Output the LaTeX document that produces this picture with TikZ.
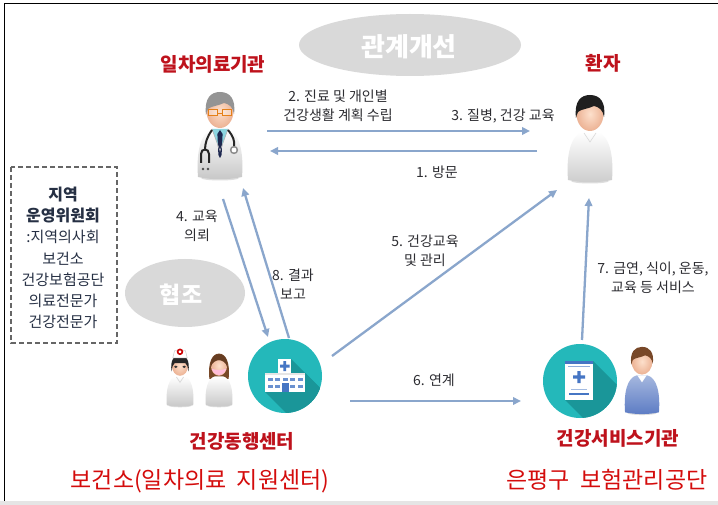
\documentclass[tikz,border=0pt]{standalone}
\usepackage{fontspec}
\setmainfont{Noto Sans CJK KR}
\usetikzlibrary{arrows.meta,shapes.geometric}

\definecolor{flowc}{RGB}{138,166,204}
\definecolor{labelc}{RGB}{45,45,50}
\definecolor{titlered}{RGB}{190,18,28}
\definecolor{brightred}{RGB}{212,12,12}
\definecolor{bubble}{RGB}{217,217,217}
\definecolor{tealc}{RGB}{36,184,186}
\definecolor{tealdark}{RGB}{26,150,153}
\definecolor{boxtext}{RGB}{38,48,68}
\definecolor{skinlight}{RGB}{253,224,204}
\definecolor{skindark}{RGB}{236,178,148}
\definecolor{winblue}{RGB}{70,118,196}
\definecolor{navytie}{RGB}{30,40,80}
\definecolor{shirtteal}{RGB}{140,214,224}
\definecolor{staffblue}{RGB}{92,124,196}
\definecolor{hairbrown}{RGB}{120,72,40}

\tikzset{
  every pic/.style={transform shape},
  % generic figure: body with soft shadow
  pics/figbase/.style 2 args={code={
    \fill[black!25, opacity=0.5] (0,43) ellipse (19 and 2.5);
    \shade[top color=#1, bottom color=#2]
      (-22,42) .. controls (-24,16) and (-19,-3) .. (-7,-6) -- (7,-6)
      .. controls (19,-3) and (24,16) .. (22,42)
      .. controls (8,45) and (-8,45) .. cycle;
  }},
  pics/face/.style={code={
    \shade[inner color=skinlight, outer color=skindark] (0,-24) ellipse (13.5 and 17);
  }},
  pics/shorthair/.style={code={
    \fill[#1] (-14,-20) .. controls (-16,-37) and (-9,-43) .. (0,-43)
      .. controls (10,-43) and (16,-36) .. (14,-21)
      .. controls (13,-28) and (9,-31) .. (4,-32)
      .. controls (-2,-29) and (-9,-29) .. (-12,-26)
      .. controls (-13,-24) and (-13.5,-22) .. cycle;
  }},
  pics/doctor/.style={code={
    \pic {figbase={white}{black!22}};
    \fill[shirtteal] (-8,-6) -- (8,-6) -- (0,16) -- cycle;
    \fill[navytie] (0,-5) -- (-2.6,-1) -- (-1.6,20) -- (0,23) -- (1.6,20) -- (2.6,-1) -- cycle;
    \draw[black!30, line width=0.6pt] (-8,-6) -- (0,16) -- (8,-6);
    \draw[black!85, line width=2pt] (-8,-5) .. controls (-13,2) and (-15,8) .. (-15,15);
    \draw[black!85, line width=2pt] (-19,28) -- (-19,19) .. controls (-19,13) and (-11,13) .. (-11,19) -- (-11,28);
    \draw[black!85, line width=2pt] (8,-5) .. controls (13,1) and (15,6) .. (14,11);
    \fill[black!45] (14,15) circle (4.2);
    \fill[white] (14,15) circle (2.4);
    \fill[black!70] (-17,34) circle (1.3) (-12,34) circle (1.3);
    \pic {face};
    \pic {shorthair={black!42}};
    \draw[orange!60!brown, line width=1pt, fill=white, fill opacity=0.35]
      (-11.5,-25) rectangle (-2.5,-19) (2.5,-25) rectangle (11.5,-19);
    \draw[orange!60!brown, line width=0.9pt] (-2.5,-22) -- (2.5,-22);
  }},
  pics/patient/.style={code={
    \pic {figbase={white}{black!20}};
    \draw[black!15, line width=0.6pt] (-6,-5) -- (0,4) -- (6,-5);
    \pic {face};
    \pic {shorthair={black!88}};
  }},
  pics/nurse/.style={code={
    \pic {figbase={white}{black!22}};
    \draw[black!15, line width=0.8pt] (-6,-5) -- (0,4) -- (6,-5);
    \pic {face};
    \fill[black!85] (-14,-14) .. controls (-17,-34) and (-9,-42) .. (0,-42)
      .. controls (9,-42) and (17,-34) .. (14,-14)
      .. controls (13,-22) and (12,-26) .. (9,-28)
      -- (-9,-28) .. controls (-12,-26) and (-13,-22) .. cycle;
    \fill[black!80] (-7,-22) ellipse (3 and 2) (7,-22) ellipse (3 and 2);
    \fill[white, draw=black!20, line width=0.5pt] (-12,-37) -- (12,-37) -- (9,-49) -- (-9,-49) -- cycle;
    \draw[red!80!black, line width=1.6pt] (0,-47) circle (4);
  }},
  pics/femaledoc/.style={code={
    \fill[hairbrown] (-16,-2) .. controls (-19,-30) and (-11,-44) .. (0,-44)
      .. controls (11,-44) and (19,-30) .. (16,-2) -- cycle;
    \pic {figbase={white}{black!22}};
    \pic {face};
    \fill[hairbrown!85!black] (-14,-20) .. controls (-15,-36) and (-8,-43) .. (0,-43)
      .. controls (8,-43) and (15,-36) .. (14,-20)
      .. controls (12,-30) and (5,-33) .. (0,-33)
      .. controls (-5,-33) and (-12,-30) .. cycle;
    \fill[pink!85!magenta!70] (-12,-19) .. controls (-9,-5) and (9,-5) .. (12,-19)
      .. controls (6,-16) and (-6,-16) .. cycle;
  }},
  pics/staff/.style={code={
    \pic {figbase={staffblue!55!white}{staffblue}};
    \fill[white] (-6,-6) -- (6,-6) -- (0,3) -- cycle;
    \pic {face};
    \pic {shorthair={hairbrown}};
  }},
  flow/.style={draw=flowc, line width=2.3pt, -{Triangle[length=8pt,width=7.5pt]}},
  lbl/.style={text=labelc, font=\fontsize{14}{19}\selectfont, align=center, inner sep=0pt},
  redtitle/.style={text=titlered, font=\fontsize{19}{22}\selectfont\bfseries, inner sep=0pt},
  bigred/.style={text=brightred, font=\fontsize{23}{26}\selectfont, inner sep=0pt},
  bubbletext/.style={text=white, font=\fontsize{#1}{30}\selectfont\bfseries, inner sep=0pt},
}

\begin{document}
\begin{tikzpicture}[x=1pt,y=-1pt]
\useasboundingbox (0,0) rectangle (718,505);
\fill[white] (0,0) rectangle (718,505);
\fill[black!10] (0,500.5) rectangle (718,505);
\draw[black, line width=1.3pt] (4.5,500.5) -- (4.5,3.5) -- (718,3.5);

% grey bubbles
\fill[bubble] (410,45) ellipse (111 and 31);
\node[bubbletext=26] (relation) at (409,47) {관계개선};
\fill[bubble] (185,293) ellipse (60 and 34);
\node[bubbletext=23] (coop) at (181,295) {협조};

% titles
\node[redtitle] (tclinic) at (213,64) {일차의료기관};
\node[redtitle] (tpatient) at (603,63) {환자};
\node[redtitle] (tcenter) at (242,441) {건강동행센터};
\node[redtitle] (tservice) at (618,438) {건강서비스기관};
\node[bigred] (bhealth) at (200,481) {보건소(일차의료\ \ 지원센터)};
\node[bigred] (binsur) at (607,480) {은평구\ \ 보험관리공단};

% figures
\pic at (220,135) {doctor};
\pic at (590,138) {patient};
\pic[scale=0.6] at (180,380) {nurse};
\pic[scale=0.6] at (219,380) {femaledoc};
\pic[scale=0.77] at (642,380) {staff};

% health center emblem
\begin{scope}[shift={(285,376)}]
  \fill[tealc] (0,0) circle (37);
  \begin{scope}
    \clip (0,0) circle (37);
    \fill[tealdark] (-20,-3) -- (20,-3) -- (80,57) -- (80,76) -- (40,76) -- (-20,16) -- cycle;
    \fill[tealdark] (-7,-17) -- (6,-17) -- (66,43) -- (66,57) -- (53,57) -- (-7,-3) -- cycle;
  \end{scope}
  \fill[white] (-7,-17) rectangle (6,-3);
  \fill[white] (-20,-3) rectangle (20,16);
  \fill[black!10] (-20,-3) rectangle (20,-1);
  \fill[winblue] (-1.7,-15) rectangle (1.2,-5) (-5,-11.5) rectangle (4.5,-8.5);
  \foreach \wx in {-15,-7.5,0,7.5,15} {
    \fill[winblue!80] (\wx-2.5,1.5) rectangle (\wx+2.5,4.5);
  }
  \foreach \wx in {-15,-7.5,7.5,15} {
    \fill[winblue!80] (\wx-2.5,8.5) rectangle (\wx+2.5,11.5);
  }
  \fill[winblue] (-3.5,7) rectangle (3.5,16);
\end{scope}
\coordinate (center) at (285,376);

% health service emblem
\begin{scope}[shift={(580,381)}]
  \fill[tealc] (0,0) circle (37);
  \begin{scope}
    \clip (0,0) circle (37);
    \fill[tealdark] (-15,-20) -- (13,-20) -- (73,40) -- (73,79) -- (45,79) -- (-15,19) -- cycle;
  \end{scope}
  \fill[white] (-15,-20) rectangle (13,19);
  \fill[winblue] (-15,-20) rectangle (13,-17.5);
  \draw[winblue!60, line width=0.8pt] (-12,-15) -- (10,-15);
  \fill[winblue] (-2.7,-10) rectangle (0.7,2) (-7,-5.7) rectangle (5,-2.3);
  \draw[winblue!50, line width=1pt] (-9,8) -- (7,8);
  \draw[winblue, line width=2pt] (-11,13) -- (9,13);
\end{scope}
\coordinate (service) at (580,381);

% regional committee box
\draw[black!60, line width=1.8pt, dash pattern=on 5pt off 3pt] (11,167) rectangle (117,343);
\node[text=boxtext, align=center, inner sep=0pt, font=\fontsize{15}{21.2}\selectfont] (committee) at (63,258)
  {{\bfseries\fontsize{16}{21.2}\selectfont 지역}\\{\bfseries\fontsize{16}{21.2}\selectfont 운영위원회}\\:지역의사회\\보건소\\건강보험공단\\의료전문가\\건강전문가};

% connector end points
\coordinate (a2s) at (267,131);
\coordinate (a2e) at (530,131);
\coordinate (a1s) at (537,151);
\coordinate (a1e) at (270,151);
\coordinate (a4s) at (223,199);
\coordinate (a4e) at (268,337);
\coordinate (a8s) at (289,338);
\coordinate (a8e) at (243,188);
\coordinate (a5s) at (332,356);
\coordinate (a5e) at (557,190);
\coordinate (a7s) at (582,340);
\coordinate (a7e) at (589,198);
\coordinate (a6s) at (350,401);
\coordinate (a6e) at (521,401);

% connectors
\draw[flow] (a2s) -- (a2e);
\draw[flow] (a1s) -- (a1e);
\draw[flow] (a4s) -- (a4e);
\draw[flow] (a8s) -- (a8e);
\draw[flow] (a5s) -- (a5e);
\draw[flow] (a7s) -- (a7e);
\draw[flow] (a6s) -- (a6e);

% connector labels
\node[lbl] (l2) at (338,106) {2. 진료 및 개인별\\건강생활 계획 수립};
\node[lbl] (l3) at (503,116) {3. 질병, 건강 교육};
\node[lbl] (l1) at (437,172) {1. 방문};
\node[lbl] (l4) at (197,226) {4. 교육\\의뢰};
\node[lbl] (l8) at (293,284) {8. 결과\\보고};
\node[lbl] (l5) at (425,251) {5. 건강교육\\및 관리};
\node[lbl] (l7) at (653,278) {7. 금연, 식이, 운동,\\교육 등 서비스};
\node[lbl] (l6) at (434,380) {6. 연계};
\end{tikzpicture}
\end{document}
